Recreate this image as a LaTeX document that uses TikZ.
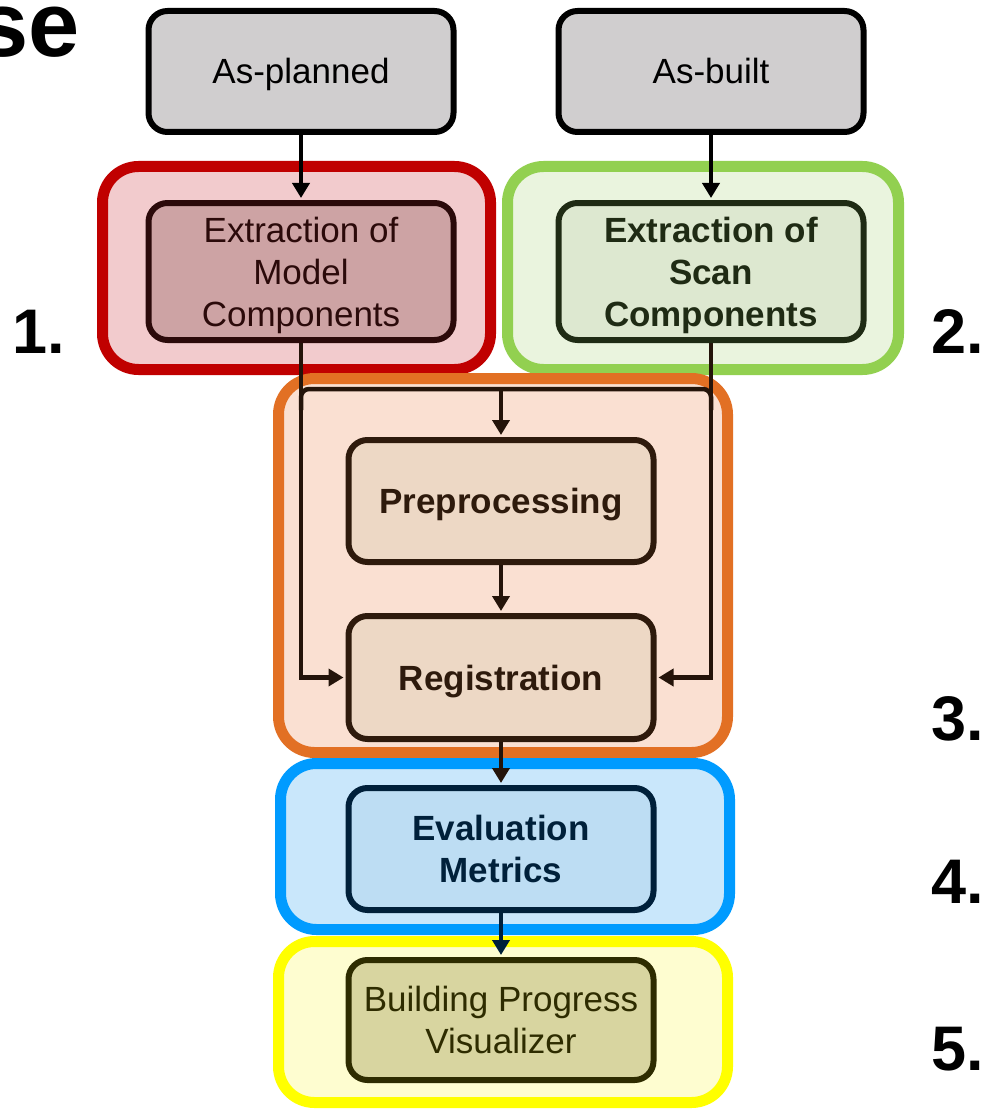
\documentclass[tikz,border=0pt]{standalone}
\usepackage{fontspec}
\setmainfont{Liberation Sans}
\usetikzlibrary{arrows.meta}

% drawing layers: stage groups at the bottom, then wires, then boxes
\pgfdeclarelayer{groups}
\pgfdeclarelayer{wires}
\pgfsetlayers{groups,wires,main}

% stage colours
\definecolor{boxgray}{HTML}{D0CECF}
\definecolor{redline}{HTML}{C00000}
\definecolor{redfill}{HTML}{F2CBCD}
\definecolor{redbox}{HTML}{CDA3A4}
\definecolor{redink}{HTML}{2B0A0A}
\definecolor{greenline}{HTML}{92D050}
\definecolor{greenfill}{HTML}{EAF4DE}
\definecolor{greenbox}{HTML}{DDE8D0}
\definecolor{greenink}{HTML}{1F2B14}
\definecolor{orangeline}{HTML}{E27024}
\definecolor{orangefill}{HTML}{FAE0D2}
\definecolor{orangebox}{HTML}{EDD8C5}
\definecolor{orangeink}{HTML}{2E1A0C}
\definecolor{blueline}{HTML}{009BFF}
\definecolor{bluefill}{HTML}{C9E7FB}
\definecolor{bluebox}{HTML}{BDDDF3}
\definecolor{blueink}{HTML}{00203A}
\definecolor{yellowline}{HTML}{FFFF00}
\definecolor{yellowfill}{HTML}{FEFDD0}
\definecolor{yellowbox}{HTML}{D8D5A0}
\definecolor{yellowink}{HTML}{2E2C00}
\definecolor{wire}{HTML}{24140A}

% extra head room on the first line of a three-line label
\newcommand{\firstlinelift}{\rule{0pt}{32.5pt}}

\tikzset{
  stagegroup/.style={draw, line width=11pt, rounded corners=36pt,
    minimum width=449pt, inner sep=0pt},
  stepbox/.style={draw, line width=6pt, rounded corners=19pt,
    minimum width=305pt, minimum height=122pt, inner sep=0pt,
    align=center, font=\fontsize{35}{42}\selectfont},
  boldbox/.style={stepbox, font=\fontsize{35}{42}\selectfont\bfseries},
  oneline/.style={text height=25pt, text depth=0pt},
  conn/.style={draw=wire, line width=4.5pt,
    -{Triangle[length=15pt,width=17pt]}, shorten >=2pt},
  wireline/.style={draw=wire, line width=4.5pt, rounded corners=8pt},
  stagenum/.style={anchor=base west, inner sep=0pt,
    font=\fontsize{63}{63}\selectfont\bfseries},
}

\begin{document}
\begin{tikzpicture}[x=1pt, y=-1pt]
\useasboundingbox (0,0) rectangle (983,1110);

% heading fragment at the top left
\node[anchor=base west, inner sep=0pt, font=\fontsize{92}{92}\selectfont\bfseries]
  (head) at (-23,57) {se};

% coloured stage groups
\begin{pgfonlayer}{groups}
\node[stagegroup, draw=redline, fill=redfill, minimum width=388pt, minimum height=203pt]
  (g1) at (296.5,268) {};
\node[stagegroup, draw=greenline, fill=greenfill, minimum width=391pt, minimum height=203pt]
  (g2) at (703,268) {};
\node[stagegroup, draw=orangeline, fill=orangefill, minimum height=374pt]
  (g3) at (503,565.5) {};
\node[stagegroup, draw=blueline, fill=bluefill, minimum height=166pt]
  (g4) at (505,846.5) {};
\node[stagegroup, draw=yellowline, fill=yellowfill, minimum height=161pt]
  (g5) at (503,1022) {};
\end{pgfonlayer}

% process boxes
\node[stepbox, oneline, fill=boxgray, draw=black, text=black, minimum height=121pt]
  (ap) at (301,71.5) {As-planned};
\node[stepbox, oneline, fill=boxgray, draw=black, text=black, minimum height=121pt]
  (ab) at (711,71.5) {As-built};
\node[stepbox, fill=redbox, draw=redink, text=redink, minimum height=137pt]
  (em) at (301,271.5) {\firstlinelift Extraction of\\Model\\Components};
\node[boldbox, fill=greenbox, draw=greenink, text=greenink, minimum height=137pt]
  (es) at (711,271.5) {\firstlinelift Extraction of\\Scan\\Components};
\node[boldbox, oneline, fill=orangebox, draw=orangeink, text=orangeink]
  (pre) at (501,501) {Preprocessing};
\node[boldbox, oneline, fill=orangebox, draw=orangeink, text=orangeink, minimum height=123pt]
  (reg) at (501,677.5) {Registration};
\node[boldbox, fill=bluebox, draw=blueink, text=blueink]
  (ev) at (501,849) {Evaluation\\Metrics};
\node[stepbox, fill=yellowbox, draw=yellowink, text=yellowink, minimum height=120pt]
  (bp) at (501,1020) {Building Progress\\Visualizer};

% junction points of the feed line into preprocessing
\coordinate (jl) at (301,389);
\coordinate (jm) at (501,389);
\coordinate (jr) at (711,389);
\coordinate (jlb) at (301,410);
\coordinate (jrb) at (711,410);

% connectors
\begin{pgfonlayer}{wires}
\draw[conn, draw=black] (ap) -- (em);
\draw[conn, draw=black] (ab) -- (es);
\draw[conn] (em.south) |- (reg.west);
\draw[conn] (es.south) |- (reg.east);
\draw[wireline] (jlb) -- (jl) -- (jr) -- (jrb);
\draw[conn] (jm) -- (pre.north);
\draw[conn] (pre) -- (reg);
\draw[conn] (reg) -- (ev);
\draw[conn, draw=blueink] (ev) -- (bp);
\end{pgfonlayer}

% stage numbers
\node[stagenum] (n1) at (12,353) {1.};
\node[stagenum] (n2) at (931,353) {2.};
\node[stagenum] (n3) at (931,740) {3.};
\node[stagenum] (n4) at (931,903) {4.};
\node[stagenum] (n5) at (931,1070) {5.};
\end{tikzpicture}
\end{document}
